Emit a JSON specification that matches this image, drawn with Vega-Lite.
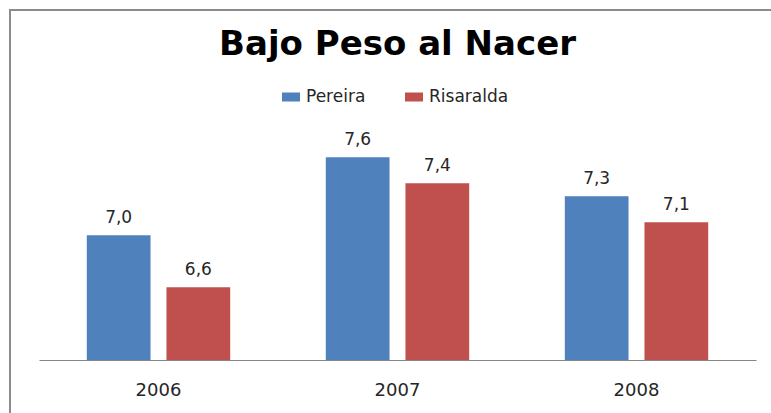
{
  "$schema": "https://vega.github.io/schema/vega-lite/v6.json",
  "width": 761,
  "height": 403,
  "autosize": {"type": "none"},
  "padding": {"left": 10, "top": 10, "right": 0, "bottom": 0},
  "title": {
    "text": "Bajo Peso al Nacer",
    "font": "DejaVu Sans",
    "fontSize": 34,
    "fontWeight": "bold",
    "color": "#000000",
    "anchor": "middle",
    "dx": 7,
    "offset": -79,
    "baseline": "alphabetic"
  },
  "data": {
    "values": [
      {"year": "2006", "serie": "Pereira", "valor": 7.0},
      {"year": "2006", "serie": "Risaralda", "valor": 6.6},
      {"year": "2007", "serie": "Pereira", "valor": 7.6},
      {"year": "2007", "serie": "Risaralda", "valor": 7.4},
      {"year": "2008", "serie": "Pereira", "valor": 7.3},
      {"year": "2008", "serie": "Risaralda", "valor": 7.1}
    ]
  },
  "encoding": {
    "x": {
      "field": "year",
      "type": "nominal",
      "scale": {"range": [29, 746], "paddingInner": 0.4, "paddingOuter": 0.2},
      "axis": {
        "title": null,
        "labelAngle": 0,
        "ticks": false,
        "tickSize": 0,
        "domain": true,
        "domainColor": "#868686",
        "domainWidth": 1,
        "grid": false,
        "offset": -53,
        "labelFont": "DejaVu Sans",
        "labelFontSize": 18,
        "labelColor": "#262626",
        "labelBaseline": "alphabetic",
        "labelPadding": 35
      }
    },
    "xOffset": {
      "field": "serie",
      "type": "nominal",
      "sort": ["Pereira", "Risaralda"],
      "scale": {"paddingInner": 0.2, "paddingOuter": 0}
    }
  },
  "layer": [
    {
      "mark": {"type": "bar"},
      "encoding": {
        "y": {
          "field": "valor",
          "type": "quantitative",
          "scale": {"domain": [6.04, 8.7323], "range": [350, 0], "nice": false, "zero": false},
          "axis": null
        },
        "y2": {"datum": 6.04},
        "color": {
          "field": "serie",
          "type": "nominal",
          "scale": {"domain": ["Pereira", "Risaralda"], "range": ["#4F81BD", "#C0504D"]},
          "legend": {
            "orient": "none",
            "legendX": 272,
            "legendY": 78,
            "direction": "horizontal",
            "title": null,
            "symbolType": "M-1,-0.5H1V0.5H-1Z",
            "symbolSize": 324,
            "symbolStrokeWidth": 0,
            "labelFont": "DejaVu Sans",
            "labelFontSize": 17,
            "labelColor": "#262626",
            "labelOffset": 6,
            "columnPadding": 39
          }
        }
      }
    },
    {
      "mark": {
        "type": "text",
        "dy": -12,
        "baseline": "alphabetic",
        "font": "DejaVu Sans",
        "fontSize": 17,
        "color": "#262626"
      },
      "encoding": {
        "y": {"field": "valor", "type": "quantitative"},
        "text": {"field": "valor", "type": "quantitative", "format": ".1f"}
      }
    }
  ],
  "config": {
    "view": {"stroke": "#8c8c8c", "strokeWidth": 2, "strokeDash": [761, 1164, 404, 0]},
    "locale": {
      "number": {"decimal": ",", "thousands": ".", "grouping": [3], "currency": ["$", ""]}
    }
  }
}
